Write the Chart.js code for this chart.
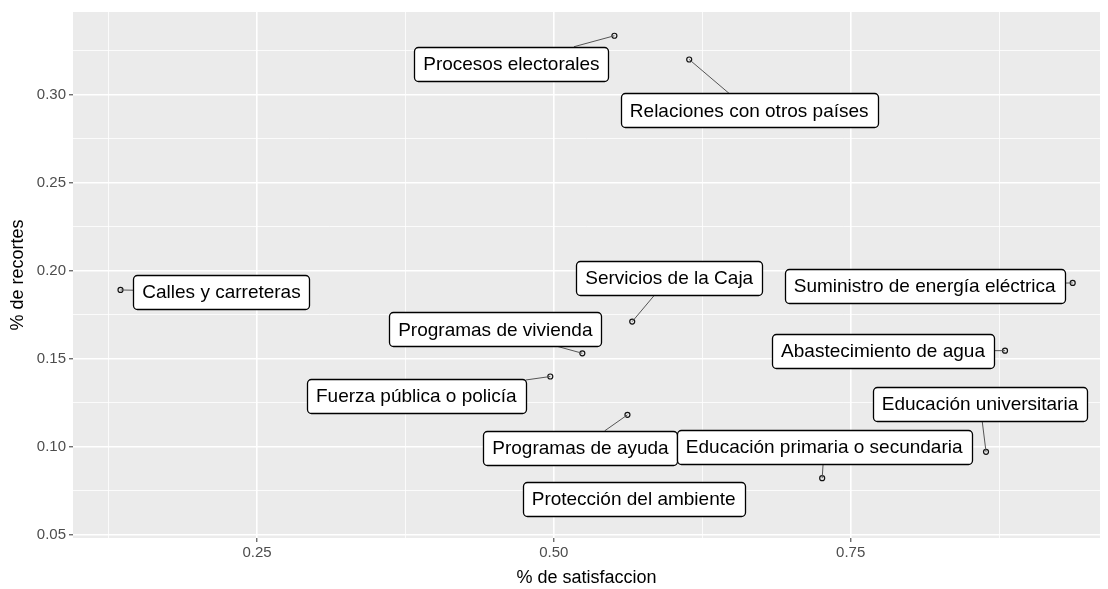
<!DOCTYPE html>
<html>
<head>
<meta charset="utf-8">
<script src="https://cdn.jsdelivr.net/npm/chart.js@4/dist/chart.umd.min.js"></script>
<style>
  html, body { margin: 0; padding: 0; background: #fff; }
  #wrap { width: 1108px; height: 589px; }
</style>
</head>
<body>
<div id="wrap"><canvas id="scatter"></canvas></div>
<script>
const categories = [
  "Procesos electorales",
  "Relaciones con otros países",
  "Calles y carreteras",
  "Servicios de la Caja",
  "Programas de vivienda",
  "Fuerza pública o policía",
  "Programas de ayuda",
  "Educación primaria o secundaria",
  "Protección del ambiente",
  "Educación universitaria",
  "Abastecimiento de agua",
  "Suministro de energía eléctrica",
];
const satisfaccion = [0.551, 0.614, 0.135, 0.566, 0.524, 0.497, 0.562, 0.726, 0.659, 0.864, 0.880, 0.937];
const recortes = [0.3335, 0.320, 0.189, 0.171, 0.153, 0.1398, 0.118, 0.082, 0.0636, 0.097, 0.1545, 0.193];
const xTicks = [0.25, 0.5, 0.75];
const yTicks = [0.05, 0.10, 0.15, 0.20, 0.25, 0.30];

// where ggrepel put each label box (pixel offset of box centre from its point)
const labelOffsets = [
  [-103, 28], [60, 51], [101, 2], [37, -44], [-87, -24], [-134, 19],
  [-47, 33], [2, -31], [-109, -12], [-6, -48], [-122, 0], [-148, 3],
];

// majors plus the minor lines halfway between them (ggplot style)
function withMinors(major, lo, hi) {
  const step = major[1] - major[0];
  const out = [];
  for (let v = major[0] - step / 2; v <= hi + 1e-9; v += step / 2) {
    if (v >= lo - 1e-9) out.push(Math.round(v * 10000) / 10000);
  }
  return out;
}
const isMajor = (list, v) => list.some(t => Math.abs(t - v) < 1e-9);

const xMin = 0.095, xMax = 0.96, yMin = 0.048, yMax = 0.347;

const panelBg = {
  id: "panelBg",
  beforeDraw(chart) {
    const { ctx, chartArea: a } = chart;
    ctx.save();
    ctx.fillStyle = "#EBEBEB";
    ctx.fillRect(a.left, a.top, a.right - a.left, a.bottom - a.top);
    ctx.restore();
  },
};

const repelLabels = {
  id: "repelLabels",
  afterDatasetsDraw(chart) {
    const { ctx } = chart;
    const pts = chart.getDatasetMeta(0).data;
    ctx.save();
    ctx.font = '19px "Liberation Sans", Arial, sans-serif';
    const boxes = pts.map((p, i) => {
      const w = ctx.measureText(categories[i]).width + 18;
      const h = 34;
      const cx = p.x + labelOffsets[i][0];
      const cy = p.y + labelOffsets[i][1];
      return { p, cx, cy, w, h };
    });
    // segments
    ctx.strokeStyle = "#555";
    ctx.lineWidth = 1;
    boxes.forEach(b => {
      const vx = b.p.x - b.cx, vy = b.p.y - b.cy;
      const s = Math.min(
        vx === 0 ? Infinity : (b.w / 2) / Math.abs(vx),
        vy === 0 ? Infinity : (b.h / 2) / Math.abs(vy)
      );
      if (s >= 1) return;
      ctx.beginPath();
      ctx.moveTo(b.p.x, b.p.y);
      ctx.lineTo(b.cx + vx * s, b.cy + vy * s);
      ctx.stroke();
    });
    // boxes
    ctx.textAlign = "center";
    ctx.textBaseline = "middle";
    boxes.forEach((b, i) => {
      const x = Math.round(b.cx - b.w / 2) + 0.5;
      const y = Math.round(b.cy - b.h / 2) + 0.5;
      ctx.beginPath();
      ctx.roundRect(x, y, Math.round(b.w), b.h, 4);
      ctx.fillStyle = "#fff";
      ctx.fill();
      ctx.strokeStyle = "#000";
      ctx.lineWidth = 1.3;
      ctx.stroke();
      ctx.fillStyle = "#000";
      ctx.fillText(categories[i], b.cx, b.cy + 1);
    });
    ctx.restore();
  },
};

const ctx = document.getElementById("scatter").getContext("2d");
new Chart(ctx, {
  type: "scatter",
  data: {
    datasets: [
      {
        data: satisfaccion.map((v, i) => ({ x: v, y: recortes[i] })),
        pointStyle: "circle",
        pointRadius: 2.5,
        pointBorderWidth: 1.2,
        pointBorderColor: "#111",
        pointBackgroundColor: "rgba(0,0,0,0)",
      },
    ],
  },
  options: {
    responsive: true,
    maintainAspectRatio: false,
    animation: false,
    layout: { padding: { left: 0, top: 12, right: 8, bottom: 0 } },
    plugins: { legend: { display: false }, tooltip: { enabled: false } },
    scales: {
      x: {
        type: "linear",
        min: xMin,
        max: xMax,
        afterBuildTicks: s => { s.ticks = withMinors(xTicks, xMin, xMax).map(v => ({ value: v })); },
        afterFit: s => { s.height = 51; },
        border: { display: false },
        grid: {
          color: "#fff",
          lineWidth: c => (isMajor(xTicks, c.tick.value) ? 1.6 : 0.8),
          tickColor: c => (isMajor(xTicks, c.tick.value) ? "#333" : "rgba(0,0,0,0)"),
          tickLength: 4,
          tickWidth: 1,
        },
        ticks: {
          autoSkip: false,
          maxRotation: 0,
          padding: 2,
          color: "#4d4d4d",
          font: { family: '"Liberation Sans", Arial, sans-serif', size: 15 },
          callback: v => (isMajor(xTicks, v) ? v.toFixed(2) : ""),
        },
        title: {
          display: true,
          text: "% de satisfaccion",
          color: "#000",
          font: { family: '"Liberation Sans", Arial, sans-serif', size: 18 },
          padding: { top: 0, bottom: 0 },
        },
      },
      y: {
        type: "linear",
        min: yMin,
        max: yMax,
        afterBuildTicks: s => { s.ticks = withMinors(yTicks, yMin, yMax).map(v => ({ value: v })); },
        afterFit: s => { s.width = 73; },
        border: { display: false },
        grid: {
          color: "#fff",
          lineWidth: c => (isMajor(yTicks, c.tick.value) ? 1.6 : 0.8),
          tickColor: c => (isMajor(yTicks, c.tick.value) ? "#333" : "rgba(0,0,0,0)"),
          tickLength: 4,
          tickWidth: 1,
        },
        ticks: {
          autoSkip: false,
          padding: 3,
          color: "#4d4d4d",
          font: { family: '"Liberation Sans", Arial, sans-serif', size: 15 },
          callback: v => (isMajor(yTicks, v) ? v.toFixed(2) : ""),
        },
        title: {
          display: true,
          text: "% de recortes",
          color: "#000",
          font: { family: '"Liberation Sans", Arial, sans-serif', size: 18 },
          padding: { top: 7, bottom: 0 },
        },
      },
    },
  },
  plugins: [panelBg, repelLabels],
});
</script>
</body>
</html>
